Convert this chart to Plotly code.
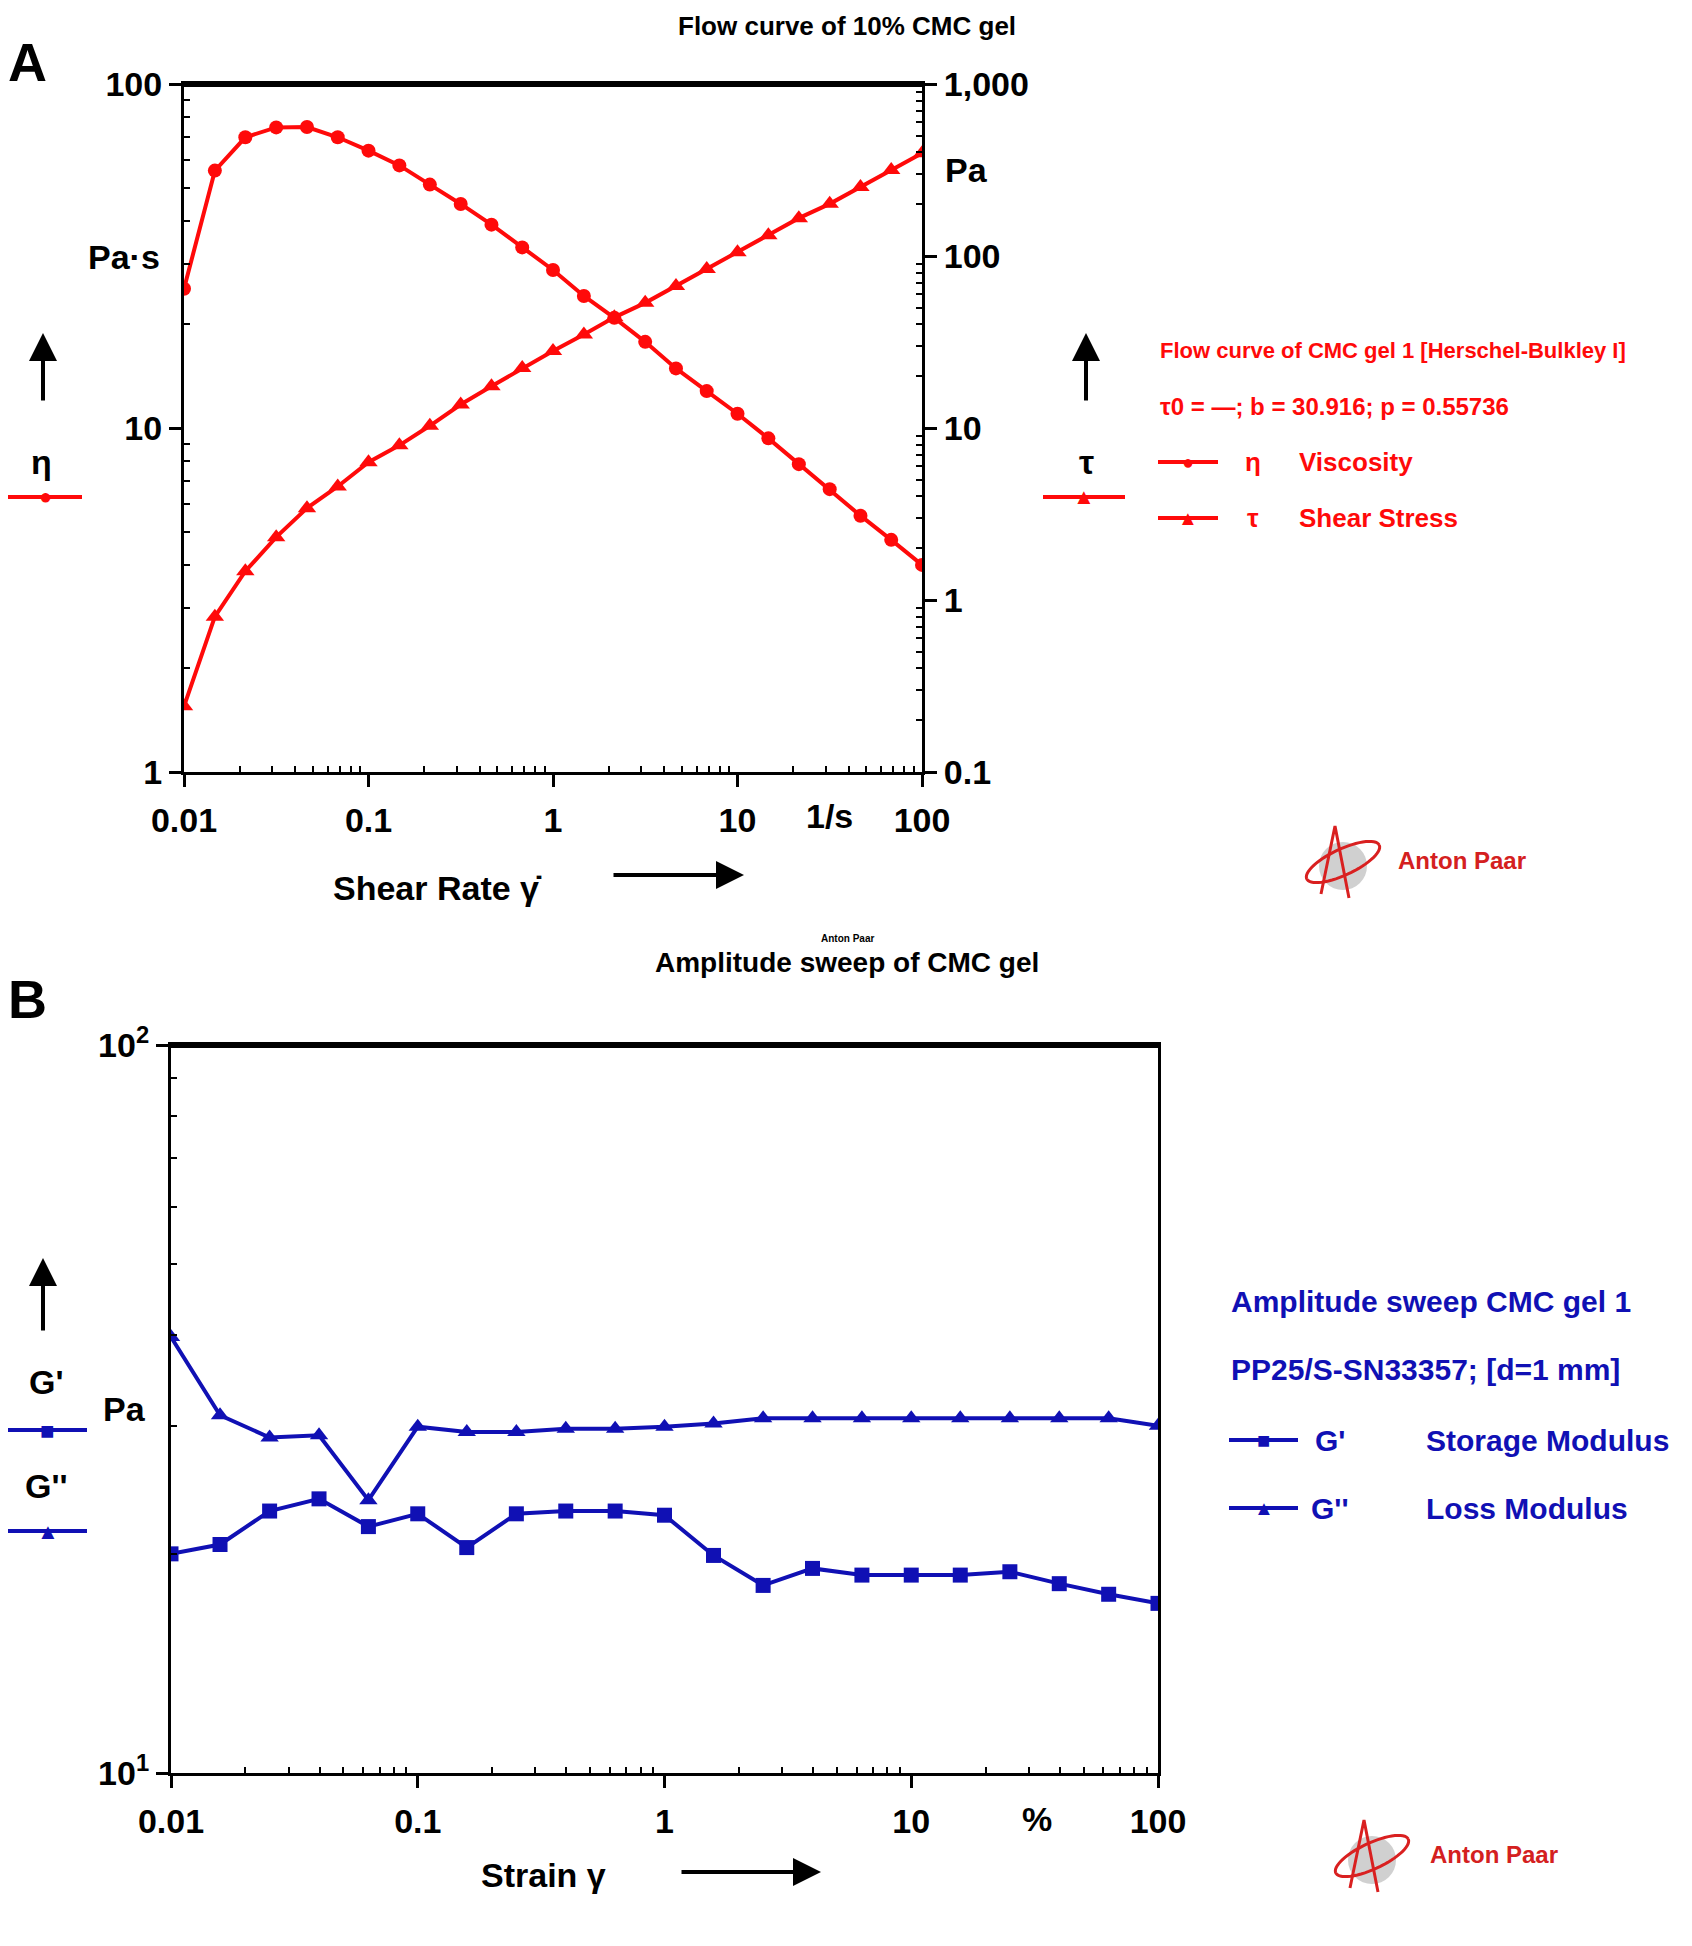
import numpy as np
import plotly.graph_objects as go

# ---------------- data ----------------
# Panel A: flow curve (shear rate in 1/s)
shear_rate = [0.01, 0.0147, 0.0215, 0.0316, 0.0464, 0.0681, 0.1, 0.147, 0.215, 0.316,
              0.464, 0.681, 1.0, 1.47, 2.15, 3.16, 4.64, 6.81, 10.0, 14.7,
              21.5, 31.6, 46.4, 68.1, 100.0]
viscosity = [25.4, 56.0, 70.0, 74.8, 75.0, 70.0, 64.0, 58.0, 51.0, 44.8,
             39.0, 33.5, 28.8, 24.2, 20.9, 17.8, 14.9, 12.8, 11.0, 9.33,
             7.85, 6.64, 5.56, 4.73, 4.0]
shear_stress = [0.241, 0.80, 1.47, 2.32, 3.42, 4.57, 6.32, 7.93, 10.3, 13.7,
                17.5, 22.3, 28.0, 35.0, 44.0, 53.4, 67.0, 84.0, 105.0, 132.0,
                166.0, 201.0, 252.0, 316.0, 396.0]

# Panel B: amplitude sweep (strain in %)
strain = [0.01, 0.0158, 0.0251, 0.0398, 0.0631, 0.1, 0.158, 0.251, 0.398, 0.631,
          1.0, 1.58, 2.51, 3.98, 6.31, 10.0, 15.8, 25.1, 39.8, 63.1, 100.0]
storage_mod = [20.0, 20.6, 22.9, 23.8, 21.8, 22.7, 20.4, 22.7, 22.9, 22.9,
               22.6, 19.9, 18.1, 19.1, 18.7, 18.7, 18.7, 18.9, 18.2, 17.6, 17.1]
loss_mod = [39.7, 31.0, 28.9, 29.1, 23.7, 29.9, 29.4, 29.4, 29.7, 29.7,
            29.9, 30.2, 30.7, 30.7, 30.7, 30.7, 30.7, 30.7, 30.7, 30.7, 30.0]

x_ticks = [0.01, 0.1, 1, 10, 100]
x_ticktext = ["0.01", "0.1", "1", "10", "100"]
visc_ticks = [1, 10, 100]
visc_ticktext = ["1", "10", "100"]
stress_ticks = [0.1, 1, 10, 100, 1000]
stress_ticktext = ["0.1", "1", "10", "100", "1,000"]
mod_ticks = [10, 100]
mod_ticktext = ["10<sup>1</sup>", "10<sup>2</sup>"]

# ---------------- style ----------------
W, H = 1692, 1946
OFF = 8  # page body margin
FONT = "Liberation Sans, Arial, sans-serif"
RED = "#ff0a0a"
BLUE = "#1010b4"
BLACK = "#000000"


def px(x):
    return (x - OFF) / W


def py(y):
    return 1 - (y - OFF) / H


def minor_vals(lo, hi):
    vals = []
    for e in range(lo, hi):
        for m in range(2, 10):
            vals.append(m * 10.0 ** e)
    return vals


fig = go.Figure()

# Panel A traces
fig.add_trace(go.Scatter(x=shear_rate, y=viscosity, mode="lines+markers",
                         line=dict(color=RED, width=4),
                         marker=dict(symbol="circle", size=14, color=RED),
                         xaxis="x", yaxis="y", showlegend=False, name="η Viscosity"))
fig.add_trace(go.Scatter(x=shear_rate, y=shear_stress, mode="lines+markers",
                         line=dict(color=RED, width=4),
                         marker=dict(symbol="triangle-up", size=16, color=RED),
                         xaxis="x", yaxis="y2", showlegend=False, name="τ Shear Stress"))
# Panel B traces
fig.add_trace(go.Scatter(x=strain, y=storage_mod, mode="lines+markers",
                         line=dict(color=BLUE, width=4),
                         marker=dict(symbol="square", size=15, color=BLUE),
                         xaxis="x2", yaxis="y3", showlegend=False, name="G' Storage Modulus"))
fig.add_trace(go.Scatter(x=strain, y=loss_mod, mode="lines+markers",
                         line=dict(color=BLUE, width=4),
                         marker=dict(symbol="triangle-up", size=16, color=BLUE),
                         xaxis="x2", yaxis="y3", showlegend=False, name="G'' Loss Modulus"))

tickfont = dict(family=FONT, size=34, color=BLACK, weight="bold")
common = dict(type="log", showgrid=False, zeroline=False, showline=True,
              linecolor=BLACK, linewidth=3, ticks="outside", ticklen=12,
              tickwidth=3, tickcolor=BLACK, tickfont=tickfont, automargin=False)

fig.update_layout(
    width=W, height=H, autosize=False,
    margin=dict(l=0, r=0, t=0, b=0, pad=0, autoexpand=False),
    paper_bgcolor="white", plot_bgcolor="white",
    font=dict(family=FONT, color=BLACK),
    xaxis=dict(**common, domain=[px(184), px(922)], range=[-2, 2], anchor="y",
               tickmode="array", tickvals=x_ticks, ticktext=x_ticktext, mirror=True,
               ticklabelstandoff=4,
               minor=dict(tickmode="array", tickvals=minor_vals(-2, 2), ticks="inside",
                          ticklen=6, tickwidth=2, tickcolor=BLACK, showgrid=False)),
    yaxis=dict(**common, domain=[py(772), py(84)], range=[0, 2], anchor="x",
               tickmode="array", tickvals=visc_ticks, ticktext=visc_ticktext,
               minor=dict(tickmode="array", tickvals=minor_vals(0, 2), ticks="inside",
                          ticklen=6, tickwidth=2, tickcolor=BLACK, showgrid=False)),
    yaxis2=dict(**common, range=[-1, 3], overlaying="y", side="right", anchor="x",
                tickmode="array", tickvals=stress_ticks, ticktext=stress_ticktext,
                minor=dict(tickmode="array", tickvals=minor_vals(-1, 3), ticks="inside",
                           ticklen=6, tickwidth=2, tickcolor=BLACK, showgrid=False)),
    xaxis2=dict(**common, domain=[px(171), px(1158)], range=[-2, 2], anchor="y3",
                tickmode="array", tickvals=x_ticks, ticktext=x_ticktext, mirror=True,
                ticklabelstandoff=4,
                minor=dict(tickmode="array", tickvals=minor_vals(-2, 2), ticks="inside",
                           ticklen=6, tickwidth=2, tickcolor=BLACK, showgrid=False)),
    yaxis3=dict(**common, domain=[py(1773), py(1045)], range=[1, 2], anchor="x2",
                tickmode="array", tickvals=mod_ticks, ticktext=mod_ticktext, mirror=True,
                minor=dict(tickmode="array", tickvals=minor_vals(1, 2), ticks="inside",
                           ticklen=6, tickwidth=2, tickcolor=BLACK, showgrid=False)),
)

shapes = []
annotations = []

# thicker top frame lines
for xr, yr in (("x domain", "y domain"), ("x2 domain", "y3 domain")):
    shapes.append(dict(type="line", xref=xr, yref=yr, x0=0, x1=1, y0=1, y1=1,
                       line=dict(color=BLACK, width=6)))


def text(x, y, s, size, color=BLACK, xanchor="center", bold=True):
    annotations.append(dict(x=px(x), y=py(y), xref="paper", yref="paper", text=s,
                            showarrow=False, xanchor=xanchor, yanchor="middle",
                            font=dict(family=FONT, size=size, color=color,
                                      weight="bold" if bold else "normal")))


def up_arrow(x, y_head, y_tail):
    annotations.append(dict(x=px(x), y=py(y_head), xref="paper", yref="paper", text="",
                            showarrow=True, ax=0, ay=y_tail - y_head, axref="pixel", ayref="pixel",
                            arrowhead=2, arrowsize=1.4, arrowwidth=4, arrowcolor=BLACK))


def right_arrow(x_head, x_tail, y):
    annotations.append(dict(x=px(x_head), y=py(y), xref="paper", yref="paper", text="",
                            showarrow=True, ax=x_tail - x_head, ay=0, axref="pixel", ayref="pixel",
                            arrowhead=2, arrowsize=1.4, arrowwidth=4, arrowcolor=BLACK))


def sample(x0, x1, y, color, glyph, gsize):
    shapes.append(dict(type="line", xref="paper", yref="paper", x0=px(x0), x1=px(x1),
                       y0=py(y), y1=py(y), line=dict(color=color, width=4)))
    text((x0 + x1) / 2, y, glyph, gsize, color=color, bold=False)


def logo(cx, cy, tx):
    shapes.append(dict(type="circle", xref="paper", yref="paper",
                       x0=px(cx - 24), x1=px(cx + 24), y0=py(cy + 24), y1=py(cy - 24),
                       fillcolor="rgba(170,170,170,0.55)", line=dict(width=0)))
    t = np.linspace(0, 2 * np.pi, 60)
    ang = np.deg2rad(-25)
    ex = 40 * np.cos(t)
    ey = 13 * np.sin(t)
    xs = cx + ex * np.cos(ang) - ey * np.sin(ang)
    ys = cy - 4 + ex * np.sin(ang) + ey * np.cos(ang)
    path = "M " + " L ".join(f"{px(a):.5f},{py(b):.5f}" for a, b in zip(xs, ys))
    shapes.append(dict(type="path", xref="paper", yref="paper", path=path,
                       line=dict(color="#d92020", width=3)))
    shapes.append(dict(type="path", xref="paper", yref="paper",
                       path=f"M {px(cx-22):.5f},{py(cy+28):.5f} L {px(cx-8):.5f},{py(cy-40):.5f} "
                            f"L {px(cx+6):.5f},{py(cy+32):.5f}",
                       line=dict(color="#d92020", width=3)))
    text(tx, cy - 6, "Anton Paar", 24, color="#d42020", xanchor="left")


# ---- Panel A decorations ----
text(847, 26, "Flow curve of 10% CMC gel", 26)
text(27, 62, "A", 54)
text(124, 257, "Pa·s", 34)
text(966, 170, "Pa", 34)
text(829, 816, "1/s", 34)
up_arrow(43, 333, 402)
up_arrow(1086, 333, 402)
text(41, 462, "η", 34)
text(1086, 462, "τ", 34)
sample(8, 82, 497, RED, "●", 22)
sample(1043, 1125, 497, RED, "▲", 22)
text(438, 888, "Shear Rate γ̇", 34)
right_arrow(744, 612, 875)

# right legend A
text(1158, 350, "Flow curve of CMC gel 1 [Herschel-Bulkley I]", 22, color=RED, xanchor="left")
text(1158, 406, "τ0 = —; b = 30.916; p = 0.55736", 24, color=RED, xanchor="left")
sample(1158, 1218, 462, RED, "●", 20)
text(1253, 462, "η", 26, color=RED)
text(1297, 462, "Viscosity", 26, color=RED, xanchor="left")
sample(1158, 1218, 518, RED, "▲", 20)
text(1253, 518, "τ", 26, color=RED)
text(1297, 518, "Shear Stress", 26, color=RED, xanchor="left")
logo(1343, 866, 1396)

# ---- Panel B decorations ----
text(847, 938, "Anton Paar", 10)
text(847, 962, "Amplitude sweep of CMC gel", 28)
text(27, 999, "B", 54)
up_arrow(43, 1258, 1332)
text(46, 1382, "G'", 34)
sample(8, 87, 1430, BLUE, "■", 24)
text(124, 1409, "Pa", 34)
text(46, 1486, "G''", 34)
sample(8, 87, 1531, BLUE, "▲", 22)
text(1037, 1819, "%", 34)
text(543, 1875, "Strain γ", 34)
right_arrow(821, 680, 1872)

# right legend B
text(1229, 1301, "Amplitude sweep CMC gel 1", 30, color=BLUE, xanchor="left")
text(1229, 1369, "PP25/S-SN33357; [d=1 mm]", 30, color=BLUE, xanchor="left")
sample(1229, 1298, 1440, BLUE, "■", 22)
text(1330, 1440, "G'", 30, color=BLUE)
text(1424, 1440, "Storage Modulus", 30, color=BLUE, xanchor="left")
sample(1229, 1298, 1508, BLUE, "▲", 20)
text(1330, 1508, "G''", 30, color=BLUE)
text(1424, 1508, "Loss Modulus", 30, color=BLUE, xanchor="left")
logo(1372, 1860, 1428)

fig.update_layout(shapes=shapes, annotations=annotations)
fig.write_html("out.html")
